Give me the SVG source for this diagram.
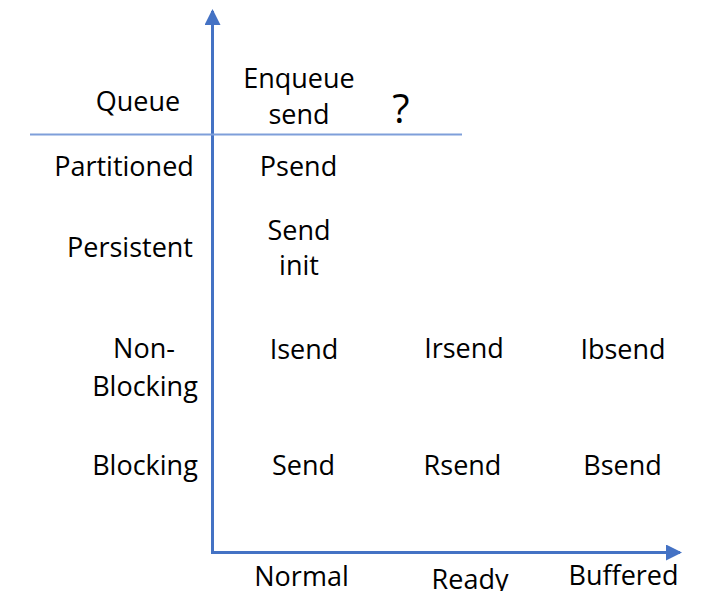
<svg xmlns="http://www.w3.org/2000/svg" width="701" height="591" viewBox="0 0 701 591">
  <style>
    .lbl { font-family: "Open Sans", "Liberation Sans", sans-serif; font-size: 27px; fill: #000; text-anchor: middle; }
    .q { font-size: 40px; }
    .axis { stroke: #4472C4; stroke-width: 3; fill: none; }
    .divider { stroke: #7F9FDA; stroke-width: 2; fill: none; }
  </style>
  <defs>
    <marker id="arrow" viewBox="0 0 16 16" refX="14" refY="8" markerWidth="16" markerHeight="16" markerUnits="userSpaceOnUse" orient="auto">
      <path d="M0,0 L16,8 L0,16 Z" fill="#4472C4"/>
    </marker>
  </defs>

  <!-- axes and divider -->
  <g id="connectors">
    <line class="axis" x1="212.5" y1="553" x2="212.5" y2="11" marker-end="url(#arrow)"/>
    <line class="axis" x1="211" y1="552.5" x2="680" y2="552.5" marker-end="url(#arrow)"/>
    <line class="divider" x1="30" y1="134.5" x2="462" y2="134.5"/>
  </g>

  <!-- row labels -->
  <g id="row-queue"><text class="lbl" x="138" y="111">Queue</text></g>
  <g id="row-partitioned"><text class="lbl" x="124" y="176">Partitioned</text></g>
  <g id="row-persistent"><text class="lbl" x="130" y="257">Persistent</text></g>
  <g id="row-nonblocking">
    <text class="lbl" x="144" y="358">Non-</text>
    <text class="lbl" x="145" y="396">Blocking</text>
  </g>
  <g id="row-blocking"><text class="lbl" x="145" y="475">Blocking</text></g>

  <!-- column labels -->
  <g id="col-normal"><text class="lbl" x="301.5" y="586">Normal</text></g>
  <g id="col-ready"><text class="lbl" x="470" y="589">Ready</text></g>
  <g id="col-buffered"><text class="lbl" x="623.5" y="585">Buffered</text></g>

  <!-- cells -->
  <g id="cell-enqueue-send">
    <text class="lbl" x="299" y="88">Enqueue</text>
    <text class="lbl" x="299" y="124">send</text>
  </g>
  <g id="cell-unknown"><text class="lbl q" x="401" y="123">?</text></g>
  <g id="cell-psend"><text class="lbl" x="298.5" y="176">Psend</text></g>
  <g id="cell-send-init">
    <text class="lbl" x="299" y="240">Send</text>
    <text class="lbl" x="299" y="275">init</text>
  </g>
  <g id="cell-isend"><text class="lbl" x="304" y="359">Isend</text></g>
  <g id="cell-irsend"><text class="lbl" x="464" y="358">Irsend</text></g>
  <g id="cell-ibsend"><text class="lbl" x="623" y="359">Ibsend</text></g>
  <g id="cell-send"><text class="lbl" x="303.5" y="475">Send</text></g>
  <g id="cell-rsend"><text class="lbl" x="462.5" y="475">Rsend</text></g>
  <g id="cell-bsend"><text class="lbl" x="622.5" y="475">Bsend</text></g>
</svg>
